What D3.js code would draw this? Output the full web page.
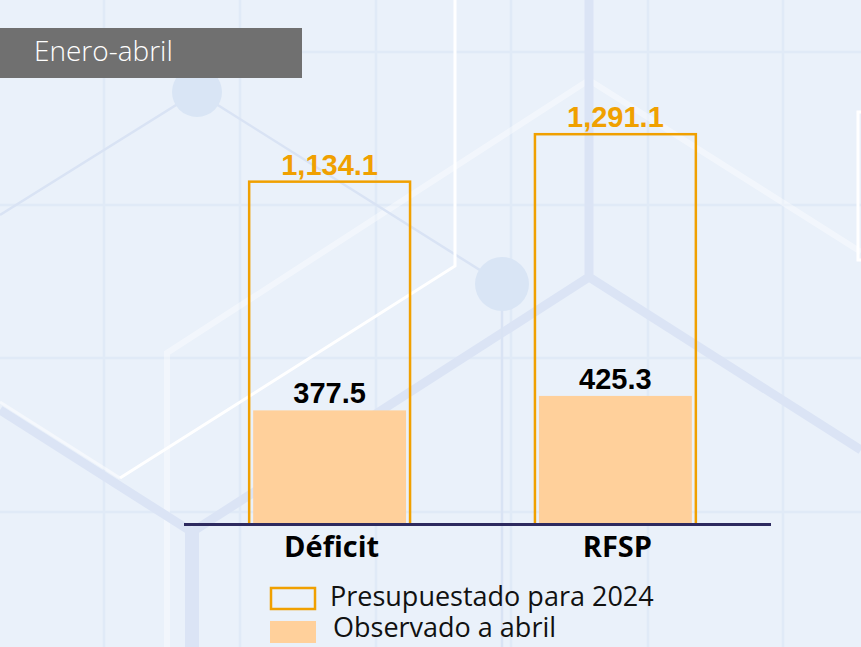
<!DOCTYPE html>
<html>
<head>
<meta charset="utf-8">
<script src="https://cdn.jsdelivr.net/npm/d3@7"></script>
<style>
  body { margin: 0; background: #eaf1fa; }
  svg { display: block; }
</style>
</head>
<body>
<div id="canvas"></div>
<script>
"use strict"

/* Data (miles de millones de pesos) */
let categories = ["Déficit", "RFSP"];
let presupuestado = [1134.1, 1291.1];   // Presupuestado para 2024
let observado = [377.5, 425.3];         // Observado a abril
let legendLabels = ["Presupuestado para 2024", "Observado a abril"];
let periodLabel = "Enero-abril";

/* drawing */
let svgWidth = 861;
let svgHeight = 647;
let baseY = 524.5;

let orange = "#f0a000";
let peach = "#ffd09b";

let svg = d3.select("#canvas")
    .append("svg")
    .attr("width", svgWidth)
    .attr("height", svgHeight);

/* background */
svg.append("rect")
    .attr("width", svgWidth)
    .attr("height", svgHeight)
    .attr("fill", "#eaf1fa");

let gridX = [104, 240, 376, 511, 648, 783];
let gridY = [52, 205, 358, 512];

svg.selectAll(".gx")
    .data(gridX)
    .join("line")
    .attr("x1", d => d).attr("x2", d => d)
    .attr("y1", 0).attr("y2", svgHeight)
    .attr("stroke", "#e0eaf7")
    .attr("stroke-width", 2.5);

svg.selectAll(".gy")
    .data(gridY)
    .join("line")
    .attr("y1", d => d).attr("y2", d => d)
    .attr("x1", 0).attr("x2", svgWidth)
    .attr("stroke", "#e0eaf7")
    .attr("stroke-width", 2.5);

/* decorative hexagon lattice */
let deco = svg.append("g").attr("fill", "none").attr("stroke-linejoin", "miter");

// faint white wide hexagon
deco.append("path")
    .attr("d", "M167,647 L167,353 L589,80 L861,252")
    .attr("stroke", "#ffffff")
    .attr("stroke-opacity", 0.4)
    .attr("stroke-width", 6);

// thick blue bands
deco.append("path")
    .attr("d", "M589,0 L589,277 L192,532 L0,410 M589,277 L861,450")
    .attr("stroke", "#dbe4f5")
    .attr("stroke-width", 9);
deco.append("path")
    .attr("d", "M192,532 L192,647")
    .attr("stroke", "#dbe4f5")
    .attr("stroke-width", 14);

// thin blue lines and nodes
deco.append("path")
    .attr("d", "M0,215 L197,92 L502,284 L502,647")
    .attr("stroke", "#d9e3f4")
    .attr("stroke-width", 2.5);
deco.append("circle")
    .attr("cx", 197).attr("cy", 92).attr("r", 25)
    .attr("fill", "#d9e5f5").attr("stroke", "none");
deco.append("circle")
    .attr("cx", 502).attr("cy", 284).attr("r", 27)
    .attr("fill", "#d9e5f5").attr("stroke", "none");

// white lines
deco.append("path")
    .attr("d", "M455,0 L455,266 L120,478")
    .attr("stroke", "#ffffff")
    .attr("stroke-width", 3);
deco.append("path")
    .attr("d", "M120,478 L0,402")
    .attr("stroke", "#ffffff")
    .attr("stroke-opacity", 0.5)
    .attr("stroke-width", 3);
deco.append("path")
    .attr("d", "M866,112 L858,112 L858,260 L866,260")
    .attr("stroke", "#ffffff")
    .attr("stroke-width", 3);

/* period tag */
svg.append("rect")
    .attr("x", 0).attr("y", 28)
    .attr("width", 302).attr("height", 50)
    .attr("fill", "#707070");
svg.append("text")
    .attr("x", 34).attr("y", 61)
    .attr("fill", "#ffffff")
    .style("font-family", "'Open Sans', sans-serif")
    .style("font-weight", 300)
    .style("font-size", "28px")
    .text(periodLabel);

/* scales */
let xScale = d3.scaleBand()
    .domain(categories)
    .range([192, 753])
    .paddingInner(0.437)
    .paddingOuter(0.2);

let yScale = d3.scaleLinear()
    .domain([0, 1400])
    .range([baseY, baseY - 0.3023 * 1400]);

let dataset = categories.map((c, i) => ({
    cat: c,
    budget: presupuestado[i],
    observed: observado[i]
}));

let fmt = d3.format(",.1f");
let inset = 4;

/* observed bars (filled) */
svg.selectAll(".obs")
    .data(dataset)
    .join("rect")
    .attr("x", d => xScale(d.cat) + inset)
    .attr("width", xScale.bandwidth() - 2 * inset)
    .attr("y", d => yScale(d.observed))
    .attr("height", d => baseY - yScale(d.observed))
    .attr("fill", peach);

/* budget bars (outline) */
svg.selectAll(".bud")
    .data(dataset)
    .join("rect")
    .attr("x", d => xScale(d.cat))
    .attr("width", xScale.bandwidth())
    .attr("y", d => yScale(d.budget))
    .attr("height", d => baseY - yScale(d.budget))
    .attr("fill", "none")
    .attr("stroke", orange)
    .attr("stroke-width", 2.5);

/* value labels */
svg.selectAll(".budLabel")
    .data(dataset)
    .join("text")
    .attr("x", d => xScale(d.cat) + xScale.bandwidth() / 2)
    .attr("y", d => yScale(d.budget) - 7)
    .attr("text-anchor", "middle")
    .attr("fill", orange)
    .style("font-family", "'Liberation Sans', Arial, sans-serif")
    .style("font-weight", "bold")
    .style("font-size", "29px")
    .text(d => fmt(d.budget));

svg.selectAll(".obsLabel")
    .data(dataset)
    .join("text")
    .attr("x", d => xScale(d.cat) + xScale.bandwidth() / 2)
    .attr("y", d => yScale(d.observed) - 7)
    .attr("text-anchor", "middle")
    .attr("fill", "#000000")
    .style("font-family", "'Liberation Sans', Arial, sans-serif")
    .style("font-weight", "bold")
    .style("font-size", "29px")
    .text(d => fmt(d.observed));

/* baseline */
svg.append("line")
    .attr("x1", 184).attr("x2", 771)
    .attr("y1", baseY).attr("y2", baseY)
    .attr("stroke", "#2d2a5f")
    .attr("stroke-width", 3);

/* category labels */
svg.selectAll(".catLabel")
    .data(categories)
    .join("text")
    .attr("x", d => xScale(d) + xScale.bandwidth() / 2 + 2)
    .attr("y", 557)
    .attr("text-anchor", "middle")
    .attr("fill", "#000000")
    .style("font-family", "'Open Sans', sans-serif")
    .style("font-weight", "bold")
    .style("font-size", "29px")
    .text(d => d);

/* legend */
svg.append("rect")
    .attr("x", 271).attr("y", 588)
    .attr("width", 44).attr("height", 21)
    .attr("fill", "none")
    .attr("stroke", orange)
    .attr("stroke-width", 2.5);
svg.append("rect")
    .attr("x", 270).attr("y", 621)
    .attr("width", 46).attr("height", 22)
    .attr("fill", peach);

svg.selectAll(".legLabel")
    .data(legendLabels)
    .join("text")
    .attr("x", (d, i) => i === 0 ? 330 : 333)
    .attr("y", (d, i) => 606 + i * 31)
    .attr("fill", "#111111")
    .style("font-family", "'Open Sans', sans-serif")
    .style("font-size", "27px")
    .text(d => d);
</script>
</body>
</html>
